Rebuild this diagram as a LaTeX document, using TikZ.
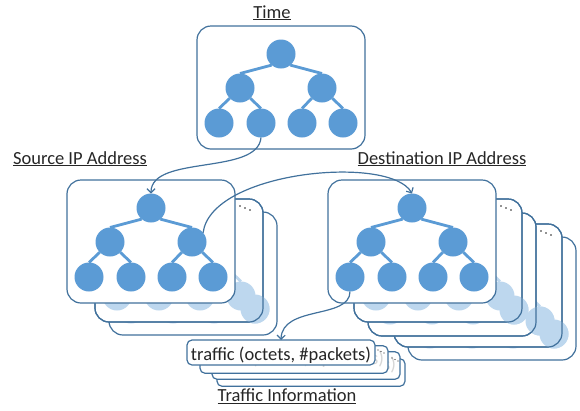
\documentclass[tikz,border=0pt]{standalone}
\usepackage{fontspec}
\setmainfont{Carlito}
\usetikzlibrary{arrows.meta}
\definecolor{leafblue}{HTML}{5B9BD5}
\definecolor{leaflight}{HTML}{BDD7EE}
\definecolor{rimblue}{HTML}{41719C}
\definecolor{inkgray}{HTML}{262626}
\definecolor{ghostgray}{HTML}{D6D6D6}
% one hierarchy: name, left, top, colour
\newcommand{\treeat}[4]{%
  \node[leaf=#4] (#1-r) at (#2+84,#3+28) {};
  \node[leaf=#4] (#1-a) at (#2+43,#3+62) {};
  \node[leaf=#4] (#1-b) at (#2+125,#3+62) {};
  \node[leaf=#4] (#1-a1) at (#2+22,#3+97) {};
  \node[leaf=#4] (#1-a2) at (#2+64,#3+97) {};
  \node[leaf=#4] (#1-b1) at (#2+105,#3+97) {};
  \node[leaf=#4] (#1-b2) at (#2+146,#3+97) {};
  \draw[twig=#4] (#1-r.-130) -- (#1-a.north) (#1-r.-50) -- (#1-b.north)
    (#1-a.-135) -- (#1-a1.north) (#1-a.-45) -- (#1-a2.north)
    (#1-b.-135) -- (#1-b1.north) (#1-b.-45) -- (#1-b2.north);
}
\newcommand{\panelat}[3]{\node[panel] (#1) at (#2+84,#3+61.5) {};}
\newcommand{\rimof}[1]{\draw[rim] (#1.north west) rectangle (#1.south east);}
\newcommand{\moredots}[2]{\fill[inkgray] (#1,#2) circle (0.9pt) (#1+5,#2+2) circle (0.9pt) (#1+10,#2+4) circle (0.9pt);}
\newcommand{\slipdots}[2]{\fill[inkgray] (#1,#2) circle (0.7pt) (#1+3,#2+1.5) circle (0.7pt) (#1+6,#2+3) circle (0.7pt);}

\begin{document}
\begin{tikzpicture}[x=1pt,y=-1pt,
  leaf/.style={circle,fill=#1,minimum size=29pt,inner sep=0pt,outer sep=0pt},
  twig/.style={draw=#1,line width=2.8pt},
  panel/.style={draw=rimblue,fill=white,line width=1.2pt,rounded corners=14pt,
    minimum width=168pt,minimum height=123pt,inner sep=0pt,outer sep=0pt},
  rim/.style={draw=rimblue,line width=1.2pt,rounded corners=14pt},
  slip/.style={draw=rimblue,fill=white,line width=1.2pt,rounded corners=5pt,
    minimum width=188pt,minimum height=25pt,inner sep=0pt,outer sep=0pt,
    text height=18.5pt,text depth=3.5pt,font=\fontsize{18.5}{22}\selectfont},
  ghostslip/.style={slip,text=ghostgray,text depth=9pt},
  title/.style={anchor=base,inner sep=0pt,text=inkgray,font=\fontsize{18.5}{22}\selectfont},
  link/.style={draw=rimblue,line width=1.2pt,-{Straight Barb[length=4pt,width=8pt]}}]
\useasboundingbox (0,0) rectangle (580,410);

% time
\panelat{time}{197}{26}
\treeat{t}{197}{26}{leafblue}
\node[title] (timelbl) at (272,18) {\underline{Time}};

% source stack
\panelat{s3}{109}{212}
\treeat{s3}{109}{212}{leaflight}
\panelat{s2}{95}{199}
\node[leaf=leaflight] (s3-peek) at (s3-b2) {};
\rimof{s2}
\treeat{s2}{95}{199}{leaflight}
\moredots{240}{206}
\panelat{s1}{67}{180}
\treeat{s1}{67}{180}{leafblue}
\node[title] (srclbl) at (80,164) {\underline{Source IP Address}};

% destination stack
\panelat{d5}{408}{237}
\treeat{d5}{408}{237}{leaflight}
\panelat{d4}{394}{224}
\node[leaf=leaflight] (d5-peek) at (d5-b2) {};
\rimof{d4}
\treeat{d4}{394}{224}{leaflight}
\moredots{541}{231}
\panelat{d3}{368}{213}
\node[leaf=leaflight] (d4-peek) at (d4-b2) {};
\rimof{d3}
\treeat{d3}{368}{213}{leaflight}
\panelat{d2}{354}{199}
\node[leaf=leaflight] (d3-peek) at (d3-b2) {};
\rimof{d2}
\treeat{d2}{354}{199}{leaflight}
\moredots{501}{206}
\panelat{d1}{328}{180}
\treeat{d1}{328}{180}{leafblue}
\node[title] (dstlbl) at (442,164) {\underline{Destination IP Address}};

% traffic records
\node[ghostslip] (tr4) at (311,372.5) {traffic (octets, \#packets)};
\node[ghostslip] (tr3) at (306,365.5) {traffic (octets, \#packets)};
\slipdots{392}{358}
\node[ghostslip] (tr2) at (294,359.5) {traffic (octets, \#packets)};
\slipdots{378}{350}
\node[slip,text=inkgray] (tr1) at (281,352.5) {traffic (octets, \#packets)};
\node[title] (trlbl) at (287,401.5) {\underline{Traffic Information}};

% links
\draw[link] (t-a2.south) .. controls +(-3,38) and +(0,-39) .. (s1-r.north);
\draw[link] (s1-b.40) .. controls +(8,-62) and +(-22,-39) .. (d1-r.north);
\draw[link] (d1-a1.south) .. controls +(0,28) and +(1,-35) .. (tr1.north);
\end{tikzpicture}
\end{document}
